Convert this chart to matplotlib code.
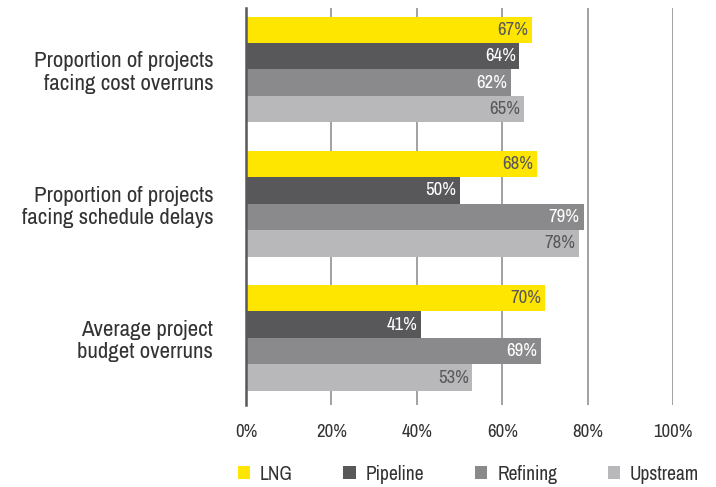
import matplotlib
matplotlib.use("Agg")
import matplotlib.pyplot as plt
from matplotlib.patches import Patch
from matplotlib import font_manager as fm

categories = ["Proportion of projects\nfacing cost overruns",
              "Proportion of projects\nfacing schedule delays",
              "Average project\nbudget overruns"]
series_names = ["LNG", "Pipeline", "Refining", "Upstream"]
lng = [67, 68, 70]
pipeline = [64, 50, 41]
refining = [62, 79, 69]
upstream = [65, 78, 53]
xticks = [0, 20, 40, 60, 80, 100]
xticklabels = ["0%", "20%", "40%", "60%", "80%", "100%"]

colors = ["#FFE600", "#58585B", "#8A8A8C", "#B8B8BB"]
label_colors = ["#58585B", "#FFFFFF", "#FFFFFF", "#58585B"]

names = {f.name for f in fm.fontManager.ttflist}
fams = [f for f in ["Archivo Narrow", "PT Sans Narrow", "Liberation Sans"] if f in names]
plt.rcParams["font.family"] = fams + ["DejaVu Sans"]

fig = plt.figure(figsize=(7.16, 4.87), dpi=100)
ax = fig.add_axes([246/716, 1-405/487, (673.3-246)/716, (405-8)/487])

bh = 0.197
offsets = [-1.5*bh, -0.5*bh, 0.5*bh, 1.5*bh]
all_series = [lng, pipeline, refining, upstream]
for si, vals in enumerate(all_series):
    ys = [g + offsets[si] for g in range(len(categories))]
    ax.barh(ys, vals, height=bh, color=colors[si], zorder=3)
    for y, v in zip(ys, vals):
        ax.text(v - 0.9, y, f"{v}%", ha="right", va="center", fontsize=13.5,
                color=label_colors[si], zorder=4)

ax.set_xlim(0, 100)
ax.set_ylim(2.5, -0.458)
ax.set_xticks(xticks)
ax.set_xticklabels(xticklabels, fontsize=13.5, color="#333333")
ax.tick_params(axis="x", length=0, pad=13.5)
ax.set_yticks(range(len(categories)))
ax.set_yticklabels(categories, fontsize=16.5, color="#333333", linespacing=1.15)
ax.tick_params(axis="y", length=0, pad=23.5)
ax.grid(axis="x", color="#9A9A9A", linewidth=1.3, zorder=0)
for s in ["top", "right", "bottom"]:
    ax.spines[s].set_visible(False)
ax.spines["left"].set_color("#58585B")
ax.spines["left"].set_linewidth(1.8)
ax.spines["left"].set_zorder(5)

handles = [Patch(facecolor=c, edgecolor="none") for c in colors]
fig.legend(handles, series_names, loc="center left", bbox_to_anchor=(220/716, 1-474/487),
           ncol=4, frameon=False, fontsize=14, handlelength=0.65, handleheight=0.65,
           handletextpad=0.5, columnspacing=2.6, labelcolor="#333333")

fig.savefig("out.png", dpi=100)
